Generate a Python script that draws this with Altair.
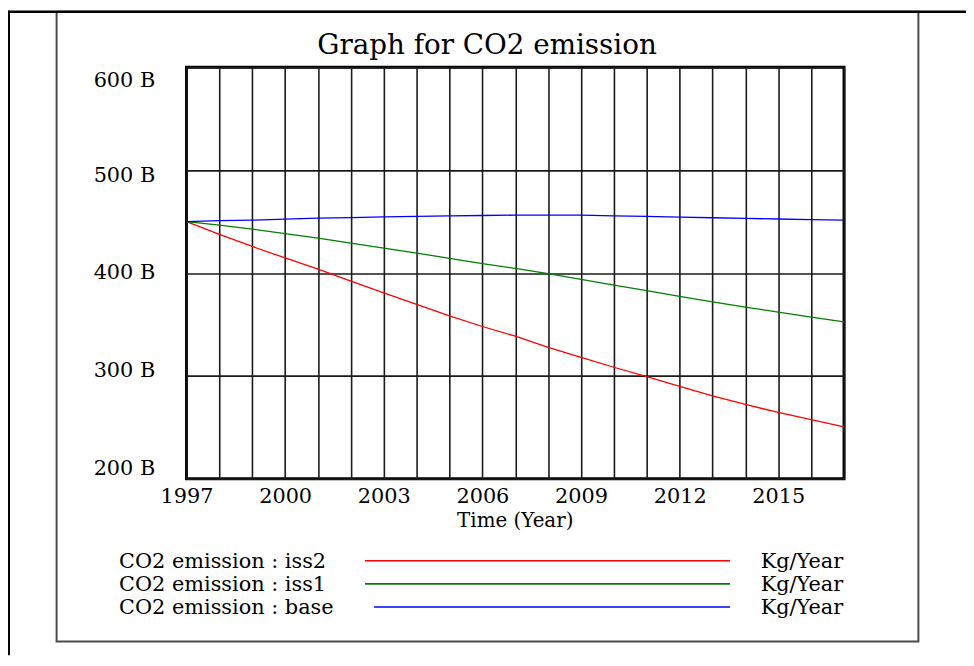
import altair as alt
import pandas as pd

# ---- data ----
years = list(range(1997, 2018))
base = [450, 451, 451.3, 452.3, 453.3, 453.8, 454.6, 455, 455.6, 455.9, 456.2,
        456.3, 456.2, 455.5, 455, 454.3, 453.7, 453, 452.5, 451.8, 451.3]
iss1 = [450, 446.5, 442.7, 438.3, 433.8, 429, 424.2, 419.4, 414.3, 409.2, 404.4,
        399.4, 393.9, 388.3, 382.8, 377.3, 372, 366.9, 362, 357.2, 352.4]
iss2 = [450, 437.6, 425.8, 414.6, 403.8, 392.2, 380.6, 369.6, 358.4, 348, 338.6,
        327.8, 318, 308.4, 299.3, 289.9, 280.6, 272.2, 264.5, 257.4, 250.5]
series_names = ["iss2", "iss1", "base"]
series_colors = ["#ff0000", "#008000", "#0000ff"]
legend_labels = ["CO2 emission : iss2", "CO2 emission : iss1", "CO2 emission : base"]
unit_label = "Kg/Year"
y_ticks = [200, 300, 400, 500, 600]
title_text = "Graph for CO2 emission"
x_title = "Time (Year)"

FONT = "DejaVu Serif"
W, H = 663, 415

rows = []
for name, vals in zip(series_names, [iss2, iss1, base]):
    for yr, v in zip(years, vals):
        rows.append({"year": yr, "value": v, "series": name})
df = pd.DataFrame(rows)

color_scale = alt.Scale(domain=series_names, range=series_colors)

x_axis = alt.Axis(
    values=years, grid=True, gridColor="#1a1a1a", gridWidth=1.6, gridOpacity=1,
    domain=False, ticks=False, tickSize=0, labelFlush=False, labelOverlap=False,
    labelExpr="(datum.value - 1997) % 3 == 0 ? format(datum.value, 'd') : ''",
    labelFont=FONT, labelFontSize=21, labelColor="black",
    labelBaseline="alphabetic", labelPadding=24, title=None,
)
y_axis = alt.Axis(
    values=y_ticks, grid=True, gridColor="#1a1a1a", gridWidth=1.6, gridOpacity=1,
    domain=False, ticks=False, tickSize=0, labelOverlap=False,
    labelExpr="datum.value + ' B'",
    labelFont=FONT, labelFontSize=21, labelColor="black",
    labelBaseline="middle", labelPadding=32, title=None,
    labelOffset={"condition": [
        {"test": "datum.value == 600", "value": 13},
        {"test": "datum.value == 500", "value": 5},
        {"test": "datum.value == 300", "value": -5},
        {"test": "datum.value == 200", "value": -10},
    ], "value": 0},
)

lines = alt.Chart(df).mark_line(strokeWidth=1.3, clip=True).encode(
    x=alt.X("year:Q", scale=alt.Scale(domain=[1997, 2017], nice=False, zero=False), axis=x_axis),
    y=alt.Y("value:Q", scale=alt.Scale(domain=[200, 600], nice=False, zero=False), axis=y_axis),
    color=alt.Color("series:N", scale=color_scale, legend=None),
    detail="series:N",
)

one = pd.DataFrame({"k": [0]})

# frames (page decoration)
top_line = alt.Chart(one).mark_rule(color="black", strokeWidth=2.5).encode(
    x=alt.value(-180), x2=alt.value(786), y=alt.value(-56))
left_line = alt.Chart(one).mark_rule(color="black", strokeWidth=2).encode(
    x=alt.value(-179), y=alt.value(-57), y2=alt.value(593))
inner_box = alt.Chart(one).mark_rect(fillOpacity=0, stroke="#4a4a4a", strokeWidth=2).encode(
    x=alt.value(-131), x2=alt.value(738), y=alt.value(-56), y2=alt.value(579))

title = alt.Chart(one).mark_text(
    text=title_text, font=FONT, fontSize=28, align="center", baseline="alphabetic", color="black"
).encode(x=alt.value(303), y=alt.value(-13))

xtitle = alt.Chart(one).mark_text(
    text=x_title, font=FONT, fontSize=20, align="center", baseline="alphabetic", color="black"
).encode(x=alt.value(W / 2), y=alt.value(464))

leg_df = pd.DataFrame({"series": series_names, "label": legend_labels,
                       "i": list(range(len(series_names)))})
leg_base = alt.Chart(leg_df).transform_calculate(
    ly="497.7 + datum.i * 23.3",
    ty="505 + datum.i * 23.3",
    lx0="datum.series == 'base' ? 189 : 180",
)
leg_text = leg_base.mark_text(font=FONT, fontSize=21, align="left", baseline="alphabetic",
                              color="black").encode(
    x=alt.value(-68), y=alt.Y("ty:Q", scale=None), text="label:N")
leg_unit = leg_base.mark_text(font=FONT, fontSize=21, align="left", baseline="alphabetic",
                              color="black", text=unit_label).encode(
    x=alt.value(579), y=alt.Y("ty:Q", scale=None))
leg_line = leg_base.mark_rule(strokeWidth=1.6).encode(
    x=alt.X("lx0:Q", scale=None), x2=alt.value(548),
    y=alt.Y("ly:Q", scale=None),
    color=alt.Color("series:N", scale=color_scale, legend=None))

chart = alt.layer(
    inner_box, top_line, left_line, lines, title, xtitle, leg_text, leg_unit, leg_line
).resolve_scale(y="independent", x="independent").properties(
    width=W, height=H,
    autosize=alt.AutoSizeParams(type="none"),
    padding={"left": 180, "top": 57, "right": 123, "bottom": 178},
    background="white",
).configure_view(stroke="black", strokeWidth=3)

chart.save("out.html", embed_options={"renderer": "svg", "actions": False})
